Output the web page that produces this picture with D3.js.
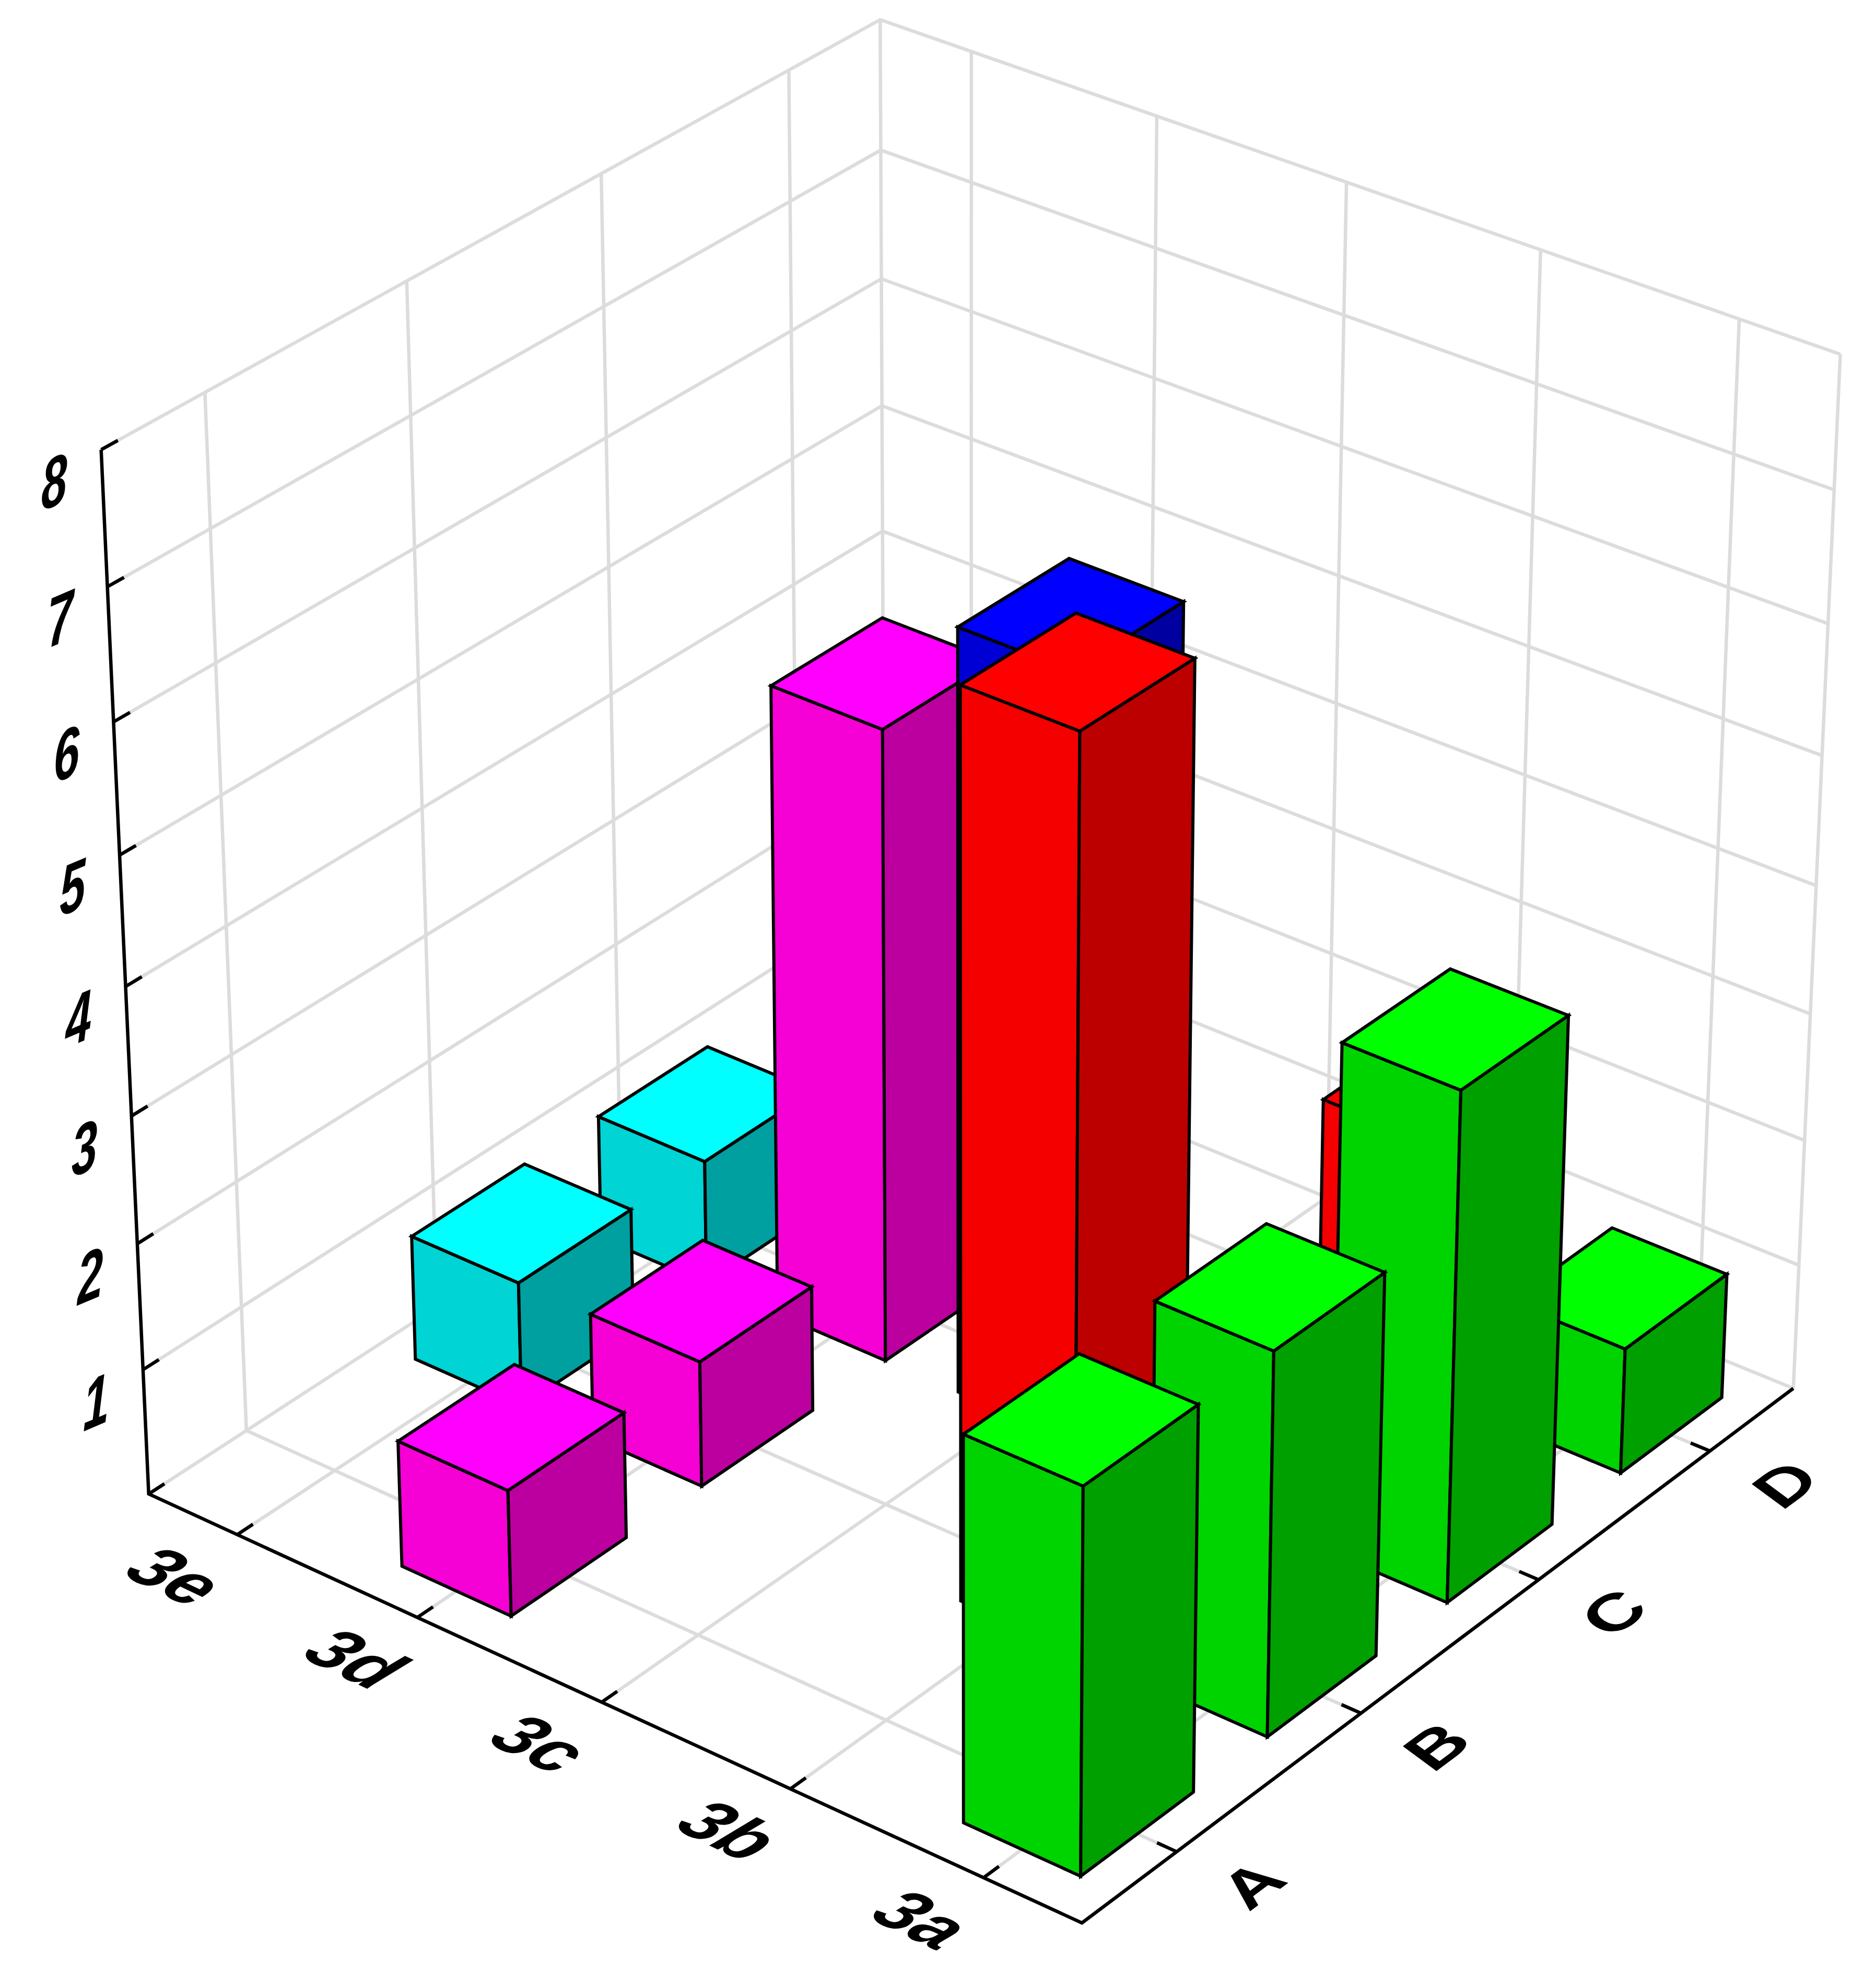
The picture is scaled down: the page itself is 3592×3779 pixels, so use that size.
<!DOCTYPE html>
<html><head><meta charset="utf-8">
<script src="https://cdnjs.cloudflare.com/ajax/libs/d3/7.8.5/d3.min.js"></script>
<style>html,body{margin:0;padding:0;background:#fff}svg{display:block}text{font-family:"Liberation Sans",Arial,sans-serif;font-weight:700;font-style:italic;fill:#000}</style>
</head><body><svg id="c" width="3592" height="3779"></svg>
<script>
// ---- data ----
const xCategories = ["3e","3d","3c","3b","3a"];
const yCategories = ["A","B","C","D"];
const zTicks = [1,2,3,4,5,6,7,8];
const values3a = [3,3,4,1];
const values3b = [0,7,0,2];
const values3c = [0,0,6,0];
const values3d = [1,1,5,0];
const values3e = [0,1,1,0];
const seriesColors = {
  "3a":["#00ff00","#00d400","#00a000"],
  "3b":["#ff0000","#f40000","#bc0000"],
  "3c":["#0000ff","#0000d4","#0000a0"],
  "3d":["#ff00ff","#f500d5","#bc00a0"],
  "3e":["#00ffff","#00d4d4","#00a0a0"]
};
const seriesValues = {"3a":values3a,"3b":values3b,"3c":values3c,"3d":values3d,"3e":values3e};

// ---- perspective camera fitted to the box corners (u,v,w -> px) ----
const anchors = [
  [0,0,0, 284,2859],[1,0,0, 2073,3681],[1,1,0, 3433,2659],
  [0,0,1, 193,862],[0,1,1, 1686,38],[1,1,1, 3523,677],[0,1,7/8, 1687,287]
];
function fitCamera(pts){
  const A=[],b=[];
  pts.forEach(([u,v,w,x,y])=>{
    x/=1000;y/=1000;
    A.push([u,v,w,1,0,0,0,0,-x*u,-x*v,-x*w]);b.push(x);
    A.push([0,0,0,0,u,v,w,1,-y*u,-y*v,-y*w]);b.push(y);
  });
  const n=11,M=d3.range(n).map(i=>d3.range(n+1).map(j=>{
    if(j<n) return d3.sum(A,r=>r[i]*r[j]);
    return d3.sum(A,(r,k)=>r[i]*b[k]);
  }));
  for(let i=0;i<n;i++){
    let p=i;for(let r=i+1;r<n;r++) if(Math.abs(M[r][i])>Math.abs(M[p][i])) p=r;
    [M[i],M[p]]=[M[p],M[i]];
    for(let r=0;r<n;r++){ if(r===i) continue; const f=M[r][i]/M[i][i];
      for(let c=i;c<=n;c++) M[r][c]-=f*M[i][c]; }
  }
  return M.map((r,i)=>r[n]/r[i]);
}
const P=fitCamera(anchors);
function project(u,v,w){
  const d=P[8]*u+P[9]*v+P[10]*w+1;
  return [1000*(P[0]*u+P[1]*v+P[2]*w+P[3])/d, 1000*(P[4]*u+P[5]*v+P[6]*w+P[7])/d];
}

// ---- scales ----
const barPad=0.40;
const xBand=d3.scaleBand().domain(xCategories).range([0,1]).paddingInner(barPad).paddingOuter(barPad/2);
const yBand=d3.scaleBand().domain(yCategories).range([0,1]).paddingInner(barPad).paddingOuter(barPad/2);
const zScale=d3.scaleLinear().domain([0,8]).range([0,1]);
const xC=c=>xBand(c)+xBand.bandwidth()/2, yC=c=>yBand(c)+yBand.bandwidth()/2;

const svg=d3.select("#c");
const line=d3.line();
const seg=(g,pts,cls)=>g.append("path").attr("class",cls).attr("d",line(pts.map(p=>project(...p))));

// ---- grid ----
const grid=svg.append("g").attr("fill","none").attr("stroke","#dcdcdc").attr("stroke-width",6.5);
const W=z=>zScale(z);
xCategories.forEach(c=>{const u=xC(c);
  seg(grid,[[u,0,0],[u,1,0],[u,1,1]],"grid");});
yCategories.forEach(c=>{const v=yC(c);
  seg(grid,[[0,v,0],[1,v,0]],"grid");seg(grid,[[0,v,0],[0,v,1]],"grid");});
[0,...zTicks].forEach(z=>{
  seg(grid,[[0,0,W(z)],[0,1,W(z)],[1,1,W(z)]],"grid");});
seg(grid,[[0,1,0],[0,1,1]],"grid");
seg(grid,[[1,1,0],[1,1,1]],"grid");

// ---- axes ----
const axes=svg.append("g").attr("fill","none").attr("stroke","#000").attr("stroke-width",6.5).attr("stroke-linejoin","miter");
seg(axes,[[0,0,1],[0,0,0],[1,0,0],[1,1,0]],"axis");
const tk=0.02;
[0,...zTicks].forEach(z=>seg(axes,[[0,0,W(z)],[0,tk,W(z)]],"tick"));
xCategories.forEach(c=>seg(axes,[[xC(c),0,0],[xC(c),tk,0]],"tick"));
yCategories.forEach(c=>seg(axes,[[1,yC(c),0],[1-tk,yC(c),0]],"tick"));

// ---- bars, painted back to front ----
const bars=[];
xCategories.forEach(xc=>{
  yCategories.forEach((yc,j)=>{
    const val=seriesValues[xc][j];
    if(val>0) bars.push({xc,yc,val});
  });
});
bars.sort((a,b)=>(xBand(a.xc)-yBand(a.yc))-(xBand(b.xc)-yBand(b.yc)));
const gb=svg.append("g").attr("stroke","#000").attr("stroke-width",6).attr("stroke-linejoin","miter");
bars.forEach(b=>{
  const u0=xBand(b.xc),u1=u0+xBand.bandwidth(),v0=yBand(b.yc),v1=v0+yBand.bandwidth(),w=zScale(b.val);
  const cols=seriesColors[b.xc];
  const face=(pts,col)=>gb.append("path").attr("fill",col).attr("d",line(pts.map(p=>project(...p)))+"Z");
  face([[u0,v0,0],[u1,v0,0],[u1,v0,w],[u0,v0,w]],cols[1]);
  face([[u1,v0,0],[u1,v1,0],[u1,v1,w],[u1,v0,w]],cols[2]);
  face([[u0,v0,w],[u1,v0,w],[u1,v1,w],[u0,v1,w]],cols[0]);
});

// ---- labels ----
const labels=svg.append("g");
zTicks.forEach(z=>{
  const [x,y]=project(0,0,W(z));
  labels.append("text").attr("font-size",135).attr("text-anchor","middle")
    .attr("transform",`matrix(0.66,-0.28,0,1,${x-90},${y+108})`).text(z);
});
xCategories.forEach(c=>{
  const [x,y]=project(xC(c),0,0);
  labels.append("text").attr("font-size",140).attr("text-anchor","middle")
    .attr("transform",`matrix(0.88,0.42,-0.72,0.62,${x-112-42},${y+115-6})`).text(c);
});
yCategories.forEach(c=>{
  const [x,y]=project(1,yC(c),0);
  labels.append("text").attr("font-size",140).attr("text-anchor","middle")
    .attr("transform",`matrix(0.78,-0.58,0.82,0.38,${x+132+50},${y+61+22})`).text(c);
});
</script></body></html>
